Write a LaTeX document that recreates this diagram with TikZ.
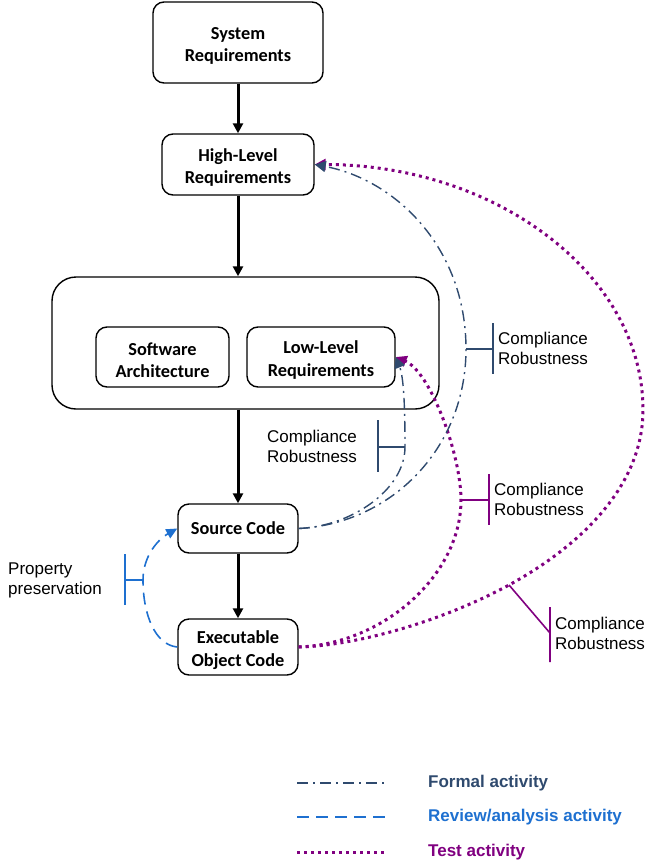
\documentclass[tikz,border=0pt]{standalone}
\usepackage{fontspec}
\setmainfont{Liberation Sans}
\newfontfamily\boxfont{Carlito}
\usetikzlibrary{arrows.meta}
\definecolor{navy}{RGB}{47,74,110}
\definecolor{revblue}{RGB}{30,112,208}
\definecolor{tstpurple}{RGB}{128,0,128}
\newcommand\topstrut{\rule{0pt}{19pt}}
\tikzset{box/.style={draw,rounded corners=11pt,line width=1.4pt,align=center,inner sep=0pt,font=\boxfont\bfseries\fontsize{18.3}{22.5}\selectfont}}
\tikzset{grp/.style={draw,rounded corners=24pt,line width=1.4pt,inner sep=0pt}}
\tikzset{lbl/.style={align=left,anchor=west,inner sep=0pt,font=\fontsize{17}{20}\selectfont}}
\tikzset{key/.style={anchor=west,inner sep=0pt,font=\bfseries\fontsize{17}{20}\selectfont}}
\tikzset{flow/.style={line width=3pt,-{Triangle[length=10pt,width=10pt]}}}
\tikzset{formal/.style={navy,line width=1.4pt,dash pattern=on 11pt off 5pt on 2pt off 5pt,-{Triangle[length=11pt,width=11pt]}}}
\tikzset{review/.style={revblue,line width=1.6pt,dash pattern=on 12pt off 7pt,-{Triangle[length=11pt,width=10pt]}}}
\tikzset{tst/.style={tstpurple,line width=3pt,dash pattern=on 3pt off 4pt,-{Triangle[length=11pt,width=11pt]}}}
\tikzset{brk/.style={line width=1.6pt}}

\begin{document}
\begin{tikzpicture}[x=1pt,y=1pt]
  \useasboundingbox (0,0) rectangle (645,-865);
  % life cycle data
  \node[box,minimum width=170pt,minimum height=81pt] (sys) at (238,-42.5) {\topstrut System\\Requirements};
  \node[box,minimum width=152pt,minimum height=61pt] (hlr) at (238,-164.5) {\topstrut High-Level\\Requirements};
  \node[grp,minimum width=387pt,minimum height=132pt] (grp) at (245.5,-343) {};
  \node[box,minimum width=133pt,minimum height=60pt] (sa) at (162.5,-357) {\topstrut Software\\Architecture};
  \node[box,minimum width=148pt,minimum height=60pt] (llr) at (321,-357) {\topstrut Low-Level\\Requirements};
  \node[box,minimum width=120pt,minimum height=49pt] (sc) at (238,-528.5) {Source Code};
  \node[box,minimum width=120pt,minimum height=56pt] (eoc) at (238,-647) {\topstrut Executable\\Object Code};
  \foreach \a/\b in {sys/hlr,hlr/grp,grp/sc,sc/eoc}
    \draw[flow] (\a.south -| hlr) -- (\b.north -| hlr);

  \coordinate (f1) at (466,-349);
  \coordinate (f2) at (405,-447);
  \coordinate (t1) at (461,-500);
  \coordinate (t2) at (509,-585);
  \coordinate (tmax) at (643,-410);
  \coordinate (r1) at (143,-580);

  % test
  \draw[tst] (eoc.east) .. controls +(85,3) and +(0,-75) .. (t1) .. controls +(0,45) and +(35,-15) .. (llr.east);
  \draw[tst] (eoc.east) .. controls +(51,1) and +(-74,-40) .. (t2) .. controls +(73,40) and +(0,-75) .. (tmax) .. controls +(0,135) and +(182,0) .. (hlr.east);
  % formal
  \draw[formal] (sc.east) .. controls +(52,2) and +(0,-43) .. (f2) .. controls +(0,40) and +(8,-20) .. (llr.east);
  \draw[formal] (sc.east) .. controls +(93,5) and +(0,-99) .. (f1) .. controls +(0,102) and +(80,-15) .. (hlr.east);
  % review
  \draw[review] (eoc.west) .. controls +(-22,2) and +(0,-35) .. (r1) .. controls +(0,25) and +(-18,-10) .. (sc.west);

  \node[lbl] (cr1) at (498,-348) {Compliance\\Robustness};
  \node[lbl] (cr2) at (267,-446) {Compliance\\Robustness};
  \node[lbl] (cr3) at (494,-499.5) {Compliance\\Robustness};
  \node[lbl] (cr4) at (555,-633) {Compliance\\Robustness};
  \node[lbl] (pp) at (8,-580) {Property\\preservation};
  \draw[brk,navy] (f1) -- ++(27,0) ++(0,26) -- ++(0,-51);
  \draw[brk,navy] (f2) -- ++(-27,0) ++(0,27) -- ++(0,-52);
  \draw[brk,tstpurple] (t1) -- ++(28,0) ++(0,26) -- ++(0,-51);
  \draw[brk,tstpurple] (t2) -- ++(41,-48) ++(0,26) -- ++(0,-55);
  \draw[brk,revblue] (r1) -- ++(-18,0) ++(0,26) -- ++(0,-51);

  % legend
  \coordinate (kf0) at (297,-783); \coordinate (kf1) at (387,-783);
  \coordinate (kr0) at (297,-817); \coordinate (kr1) at (387,-817);
  \coordinate (kt0) at (297,-852); \coordinate (kt1) at (387,-852);
  \draw[formal,-] (kf0) -- (kf1);
  \draw[review,-] (kr0) -- (kr1);
  \draw[tst,-] (kt0) -- (kt1);
  \node[key,text=navy] (kfl) at (428,-783) {Formal activity};
  \node[key,text=revblue] (krl) at (428,-817) {Review/analysis activity};
  \node[key,text=tstpurple] (ktl) at (428,-852) {Test activity};
\end{tikzpicture}
\end{document}
